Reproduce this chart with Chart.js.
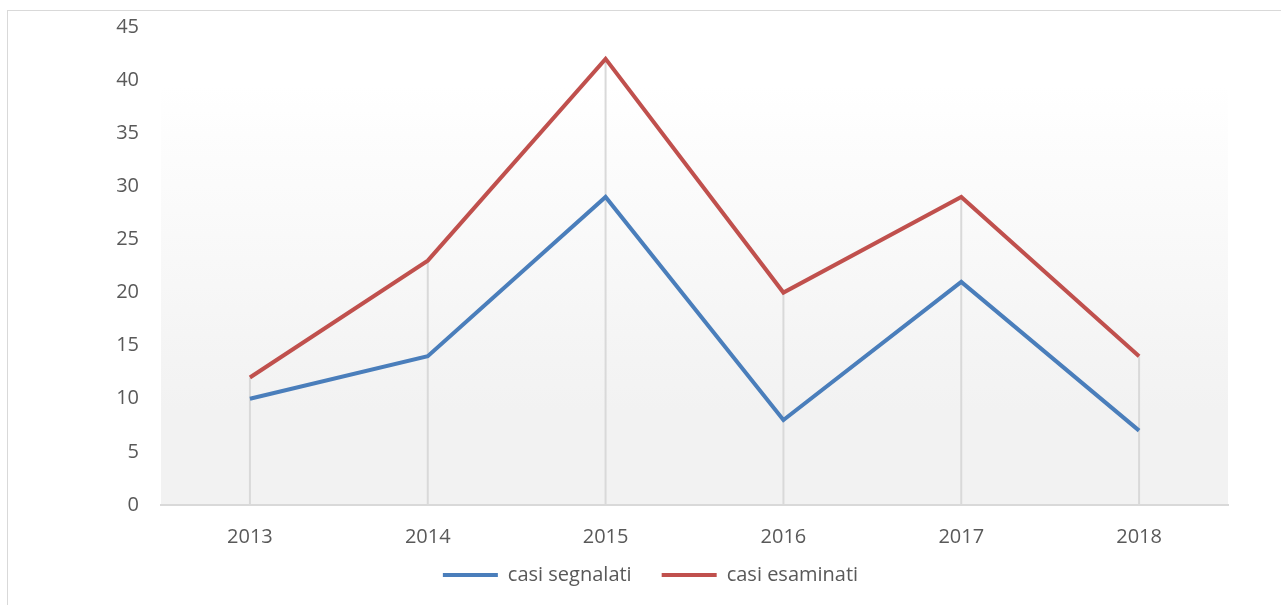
<!DOCTYPE html>
<html>
<head>
<meta charset="utf-8">
<script src="https://cdn.jsdelivr.net/npm/chart.js@4.4.0/dist/chart.umd.min.js"></script>
<style>
  html, body { margin: 0; padding: 0; background: #fff; }
  #frame {
    position: absolute; left: 7px; top: 10px; width: 1290px; height: 620px;
    border: 1px solid #d9d9d9; box-sizing: border-box;
  }
  #wrap { position: absolute; left: 0; top: 0; width: 1281px; height: 605px; }
</style>
</head>
<body>
<div id="frame"></div>
<div id="wrap"><canvas id="chart"></canvas></div>
<script>
const years = ["2013", "2014", "2015", "2016", "2017", "2018"];
const casiSegnalati = [10, 14, 29, 8, 21, 7];
const casiEsaminati = [12, 23, 42, 20, 29, 14];

const textColor = "#595959";
const fontFamily = "'Open Sans', 'Noto Sans', sans-serif";

// plot area fill: white at top fading to light grey
const plotBackground = {
  id: "plotBackground",
  beforeDraw(chart) {
    const { ctx, chartArea } = chart;
    const g = ctx.createLinearGradient(0, chartArea.top, 0, chartArea.bottom);
    g.addColorStop(0, "#ffffff");
    g.addColorStop(0.12, "#ffffff");
    g.addColorStop(0.8, "#f2f2f2");
    g.addColorStop(1, "#f2f2f2");
    ctx.save();
    ctx.fillStyle = g;
    ctx.fillRect(chartArea.left, chartArea.top, chartArea.right - chartArea.left, chartArea.bottom - chartArea.top);
    ctx.restore();
  }
};

// vertical drop lines from the highest point to the axis
const dropLines = {
  id: "dropLines",
  beforeDatasetsDraw(chart) {
    const { ctx } = chart;
    const yZero = chart.scales.y.getPixelForValue(0);
    ctx.save();
    ctx.strokeStyle = "#d9d9d9";
    ctx.lineWidth = 2;
    years.forEach((y, i) => {
      let top = yZero;
      chart.data.datasets.forEach((ds, di) => {
        const pt = chart.getDatasetMeta(di).data[i];
        if (pt && pt.y < top) top = pt.y;
      });
      const x = chart.scales.x.getPixelForValue(i);
      ctx.beginPath();
      ctx.moveTo(x, top);
      ctx.lineTo(x, yZero);
      ctx.stroke();
    });
    ctx.restore();
  }
};

// the x labels sit over the legend's top padding, so don't clip them to the axis box
const unclipXLabels = {
  id: "unclipXLabels",
  afterLayout(chart) {
    chart.scales.x.bottom = chart.height;
  }
};

new Chart(document.getElementById("chart"), {
  type: "line",
  data: {
    labels: years,
    datasets: [
      {
        label: "casi segnalati",
        data: casiSegnalati,
        borderColor: "#4a7ebb",
        backgroundColor: "#4a7ebb",
        borderWidth: 4,
        pointRadius: 0,
        tension: 0,
      },
      {
        label: "casi esaminati",
        data: casiEsaminati,
        borderColor: "#c0504d",
        backgroundColor: "#c0504d",
        borderWidth: 4,
        pointRadius: 0,
        tension: 0,
      },
    ],
  },
  options: {
    responsive: true,
    maintainAspectRatio: false,
    animation: false,
    layout: {
      autoPadding: false,
      padding: { left: 73, right: 53, top: 27, bottom: 10 },
    },
    plugins: {
      legend: {
        position: "bottom",
        labels: {
          usePointStyle: true,
          pointStyle: "line",
          pointStyleWidth: 55,
          color: textColor,
          font: { family: fontFamily, size: 20 },
          padding: 30,
        },
      },
      tooltip: { enabled: false },
    },
    scales: {
      x: {
        offset: true,
        grid: { display: false, drawTicks: false },
        border: { color: "#d9d9d9", width: 2 },
        afterFit(scale) { scale.height = 30; },
        ticks: {
          color: textColor,
          font: { family: fontFamily, size: 20 },
          padding: 20,
        },
      },
      y: {
        min: 0,
        max: 45,
        grid: { display: false, drawTicks: false },
        border: { display: false },
        afterFit(scale) {
          scale.width = 88;
          scale.paddingTop = 0;
          scale.paddingBottom = 0;
        },
        ticks: {
          stepSize: 5,
          color: textColor,
          font: { family: fontFamily, size: 20 },
          padding: 22,
        },
      },
    },
  },
  plugins: [plotBackground, dropLines, unclipXLabels],
});
</script>
</body>
</html>
